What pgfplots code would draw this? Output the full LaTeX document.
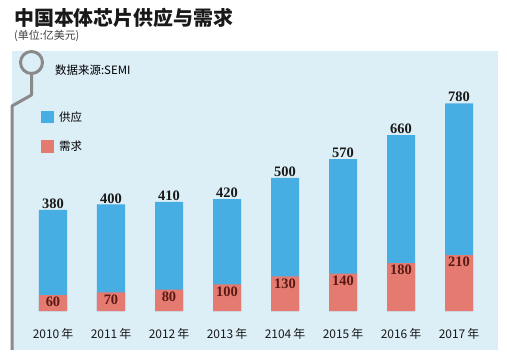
\documentclass[border=0pt]{standalone}
\usepackage{pgfplots}
\pgfplotsset{compat=1.18}
\usepackage{fontspec}
\setmainfont{Liberation Serif}
\newfontfamily\cjk{Noto Sans CJK SC}
\definecolor{panel}{HTML}{DCEEF6}
\definecolor{supply}{HTML}{47AEE3}
\definecolor{demand}{HTML}{E57A70}
\definecolor{dlabel}{HTML}{5B1A14}
\definecolor{deco}{HTML}{8A8A8A}
\begin{document}
\begin{tikzpicture}
\path[use as bounding box] (0,0) rectangle (507bp,359bp);
\fill[white] (0,0) rectangle (507bp,359bp);
\fill[panel] (12bp,9bp) rectangle (498bp,308bp);
% decoration line
\draw[deco, line width=3bp] (31.5bp,296.5bp) circle (11bp);
\draw[deco, line width=3bp, line join=round] (31.5bp,285.5bp) -- (31.5bp,264bp) -- (12bp,253bp) -- (12bp,9bp);
% titles
\node[anchor=west, inner sep=0pt, font=\cjk\bfseries\fontsize{20}{22}\selectfont, text=black!90] at (14bp,341bp) {中国本体芯片供应与需求};
\node[anchor=west, inner sep=0pt, font=\cjk\fontsize{11}{12}\selectfont, text=black!75] at (14bp,323bp) {(单位:亿美元)};
\node[anchor=west, inner sep=0pt, font=\cjk\fontsize{11.5}{12}\selectfont] at (55bp,289bp) {数据来源:SEMI};
% legend
\fill[supply] (41bp,236bp) rectangle (54bp,248bp);
\fill[demand] (41bp,206bp) rectangle (54bp,219bp);
\node[anchor=west, inner sep=0pt, font=\cjk\fontsize{11.5}{12}\selectfont] at (59bp,242bp) {供应};
\node[anchor=west, inner sep=0pt, font=\cjk\fontsize{11.5}{12}\selectfont] at (59bp,212.5bp) {需求};
\begin{axis}[
  at={(24bp,48bp)}, anchor=south west,
  scale only axis, width=464bp, height=261bp,
  xmin=-0.5, xmax=7.5, ymin=0, ymax=980,
  clip=false,
  axis line style={draw=none},
  xtick=data,
  xticklabels={2010\,年,2011\,年,2012\,年,2013\,年,2104\,年,2015\,年,2016\,年,2017\,年},
  xtick style={draw=none},
  ytick=\empty,
  xticklabel style={anchor=center, yshift=-19bp, font=\cjk\fontsize{12}{13}\selectfont, text=black!90},
  ybar, bar width=28bp,
  /pgf/number format/assume math mode=true,
]
\addplot[draw=none, fill=supply, bar shift=0pt,
  nodes near coords,
  every node near coord/.append style={font=\bfseries\fontsize{14.5}{15}\selectfont, text=black!90, inner sep=1bp}]
  coordinates {(0,380) (1,400) (2,410) (3,420) (4,500) (5,570) (6,660) (7,780)};
\addplot[draw=none, fill=demand, bar shift=0pt,
  nodes near coords,
  every node near coord/.append style={anchor=north, font=\bfseries\fontsize{14.5}{15}\selectfont, text=dlabel, inner sep=1bp, yshift=-1bp}]
  coordinates {(0,60) (1,70) (2,80) (3,100) (4,130) (5,140) (6,180) (7,210)};
\end{axis}
\end{tikzpicture}
\end{document}
